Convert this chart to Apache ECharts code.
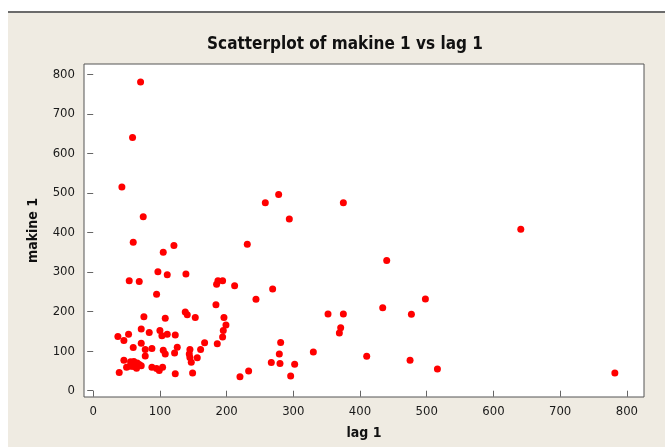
<!DOCTYPE html>
<html><head><meta charset="utf-8">
<script src="https://cdn.jsdelivr.net/npm/echarts@6/dist/echarts.min.js"></script>
<style>html,body{margin:0;padding:0;background:#fff}#c{width:665px;height:447px}</style>
</head><body><div id="c"></div>
<script>
const titleText = "Scatterplot of makine 1 vs lag 1";
const xName = "lag 1";
const yName = "makine 1";
const xTicks = [0, 100, 200, 300, 400, 500, 600, 700, 800];
const yTicks = [0, 100, 200, 300, 400, 500, 600, 700, 800];
const lag1 = [71,59,43,75,258,278,375,294,641,440,60,121,231,105,97,111,139,54,69,95,187,194,185,212,269,244,184,498,434,352,375,477,76,108,138,141,153,196,199,195,194,186,167,161,156,72,84,37,53,46,100,103,111,123,60,72,78,88,78,105,108,126,122,145,144,145,147,46,50,55,56,60,61,63,66,69,72,65,88,95,99,104,39,123,149,220,233,267,280,279,281,302,296,330,371,369,410,475,516,782];
const makine1 = [780,640,515,440,475,496,475,434,408,329,375,367,370,350,301,293,295,278,276,244,278,278,269,265,257,231,217,232,210,194,194,193,187,183,199,192,185,185,166,152,136,119,121,104,83,156,147,137,143,127,152,139,143,141,109,120,104,107,88,102,93,110,95,104,93,84,72,77,59,62,73,61,74,67,70,66,63,57,59,56,51,59,46,43,45,35,50,71,69,93,122,67,37,98,159,146,87,77,55,45];
const points = lag1.map((v, i) => [v, makine1[i]]);

const font = "'DejaVu Sans Condensed', 'DejaVu Sans', sans-serif";
const chart = echarts.init(document.getElementById('c'));
chart.setOption({
  backgroundColor: '#ffffff',
  animation: false,
  graphic: [
    {type: 'rect', left: 8, top: 12, shape: {width: 657, height: 435}, style: {fill: '#EFEBE2'}, z: -10},
    {type: 'rect', left: 8, top: 11, shape: {width: 657, height: 2}, style: {fill: '#6b6b6b'}, z: -9}
  ],
  title: {
    text: titleText, left: 340, top: 31, textAlign: 'center',
    textStyle: {fontFamily: font, fontWeight: 'bold', fontSize: 17, color: '#111'}
  },
  grid: {
    left: 84, right: 21, top: 64, bottom: 50, show: true,
    backgroundColor: '#ffffff', borderColor: '#555', borderWidth: 1
  },
  xAxis: {
    type: 'value', min: -13.8, max: 825.7,
    name: xName, nameLocation: 'middle', nameGap: 29,
    nameTextStyle: {fontFamily: font, fontWeight: 'bold', fontSize: 14, color: '#111'},
    axisLine: {show: false},
    splitLine: {show: false},
    axisTick: {show: true, length: 6, customValues: xTicks, lineStyle: {color: '#666'}},
    axisLabel: {customValues: xTicks, margin: 8, fontFamily: font, fontSize: 13, color: '#1a1a1a'}
  },
  yAxis: {
    type: 'value', min: -15.9, max: 825.8,
    name: yName, nameLocation: 'middle', nameGap: 44, nameRotate: 90,
    nameTextStyle: {fontFamily: font, fontWeight: 'bold', fontSize: 14, color: '#111'},
    axisLine: {show: false},
    splitLine: {show: false},
    axisTick: {show: true, length: 6, customValues: yTicks, lineStyle: {color: '#666'}},
    axisLabel: {customValues: yTicks, margin: 9, fontFamily: font, fontSize: 13, color: '#1a1a1a'}
  },
  series: [{
    type: 'scatter', data: points, symbol: 'circle', symbolSize: 7,
    itemStyle: {color: '#FF0000', opacity: 1}
  }]
});
</script></body></html>
